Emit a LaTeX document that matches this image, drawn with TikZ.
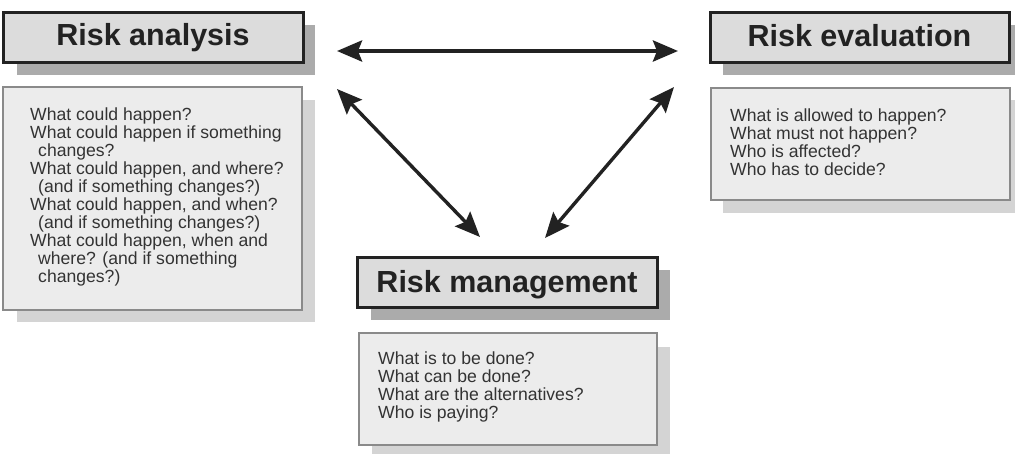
\documentclass[tikz,border=0pt]{standalone}
\usepackage{fontspec}
\setmainfont{Liberation Sans}
\newfontfamily\titlefont{Liberation Sans Bold}
\newfontfamily\bodyfont{Liberation Sans}
\usetikzlibrary{arrows.meta}
\definecolor{titlefill}{HTML}{DCDCDC}
\definecolor{titleshadow}{HTML}{ABABAB}
\definecolor{bodyfill}{HTML}{ECECEC}
\definecolor{bodyshadow}{HTML}{D4D4D4}
\definecolor{bodyline}{HTML}{8A8A8A}
\definecolor{ink}{HTML}{222222}
\definecolor{textgray}{HTML}{333333}
\tikzset{
  titlebox/.style={draw=ink, line width=3pt, fill=titlefill},
  titleshade/.style={fill=titleshadow},
  bodybox/.style={draw=bodyline, line width=1.3pt, fill=bodyfill},
  bodyshade/.style={fill=bodyshadow},
  titletext/.style={anchor=base, inner sep=0pt, text=ink,
    font=\titlefont\fontsize{30.5}{34}\selectfont},
  bodytext/.style={anchor=north west, inner sep=0pt, align=left, text=textgray,
    font=\bodyfont\fontsize{17.6}{18}\selectfont},
  link/.style={draw=ink, line width=4pt,
    {Stealth[length=25pt,width=21pt,inset=4pt]}-{Stealth[length=25pt,width=21pt,inset=4pt]}},
  dlink/.style={link, line width=3.4pt}
}
\newcommand{\ind}{\hspace*{8pt}}
\begin{document}
\begin{tikzpicture}[x=1pt,y=-1pt]
\useasboundingbox (0,0) rectangle (1023,456);
\fill[white] (0,0) rectangle (1023,456);

% Risk analysis
\fill[titleshade] (17,25) rectangle (315,75);
\draw[titlebox] (3,12) rectangle (303,62);
\node[titletext] (ta) at (153,45.5) {Risk analysis};
\fill[bodyshade] (17,100) rectangle (315,322);
\draw[bodybox] (3,87) rectangle (302,310);
\node[bodytext] (qa) at (30,107.8) {What could happen?\\
What could happen if something\\
\ind changes?\\
What could happen, and where?\\
\ind (and if something changes?)\\
What could happen, and when?\\
\ind (and if something changes?)\\
What could happen, when and\\
\ind where? (and if something\\
\ind changes?)};

% Risk evaluation
\fill[titleshade] (723,25) rectangle (1015,75);
\draw[titlebox] (710,12) rectangle (1009,62);
\node[titletext] (te) at (859.5,46.5) {Risk evaluation};
\fill[bodyshade] (723,100) rectangle (1015,213);
\draw[bodybox] (711,88) rectangle (1010,200);
\node[bodytext] (qe) at (730,108.8) {What is allowed to happen?\\
What must not happen?\\
Who is affected?\\
Who has to decide?};

% Risk management
\fill[titleshade] (371,270) rectangle (670,320);
\draw[titlebox] (357,257) rectangle (657,307);
\node[titletext] (tm) at (507,292.5) {Risk management};
\fill[bodyshade] (372,347) rectangle (670,454);
\draw[bodybox] (359,333) rectangle (657,445);
\node[bodytext] (qm) at (378,352) {What is to be done?\\
What can be done?\\
What are the alternatives?\\
Who is paying?};

% connectors between the three fields
\coordinate (aR) at (337,51);
\coordinate (eL) at (678,51);
\coordinate (aD) at (337,89);
\coordinate (mL) at (480,237);
\coordinate (eD) at (674,87);
\coordinate (mR) at (545,238);
\draw[link] (aR) -- (eL);
\draw[dlink] (aD) -- (mL);
\draw[dlink] (eD) -- (mR);
\end{tikzpicture}
\end{document}
